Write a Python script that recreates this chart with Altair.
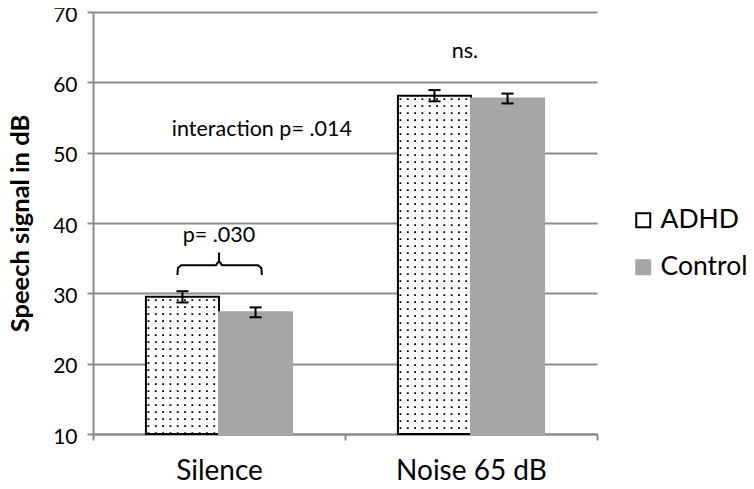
import altair as alt
import pandas as pd

# ---- data ----
conditions = ["Silence", "Noise 65 dB"]
groups = ["ADHD", "Control"]
adhd_mean = [29.5, 58.1]
control_mean = [27.3, 57.7]
adhd_err = [0.8, 0.8]
control_err = [0.7, 0.7]
y_ticks = [10, 20, 30, 40, 50, 60, 70]

annot_text = ["p= .030", "interaction p= .014", "ns."]
annot_x = [0.0, 0.17, 0.976]
annot_y = [38.1, 53.2, 64.35]

brace_x = [-0.165, -0.163, -0.150, -0.012, 0.0, 0.0, 0.0, 0.012, 0.155, 0.168, 0.170]
brace_y = [32.6, 33.6, 34.0, 34.0, 34.6, 35.8, 34.6, 34.0, 34.0, 33.6, 32.6]
brace_part = ["L", "L", "L", "L", "L", "L", "R", "R", "R", "R", "R"]

# ---- tables ----
rows = []
for i, c in enumerate(conditions):
    rows.append({"idx": i, "condition": c, "group": "ADHD", "mean": adhd_mean[i], "err": adhd_err[i]})
    rows.append({"idx": i, "condition": c, "group": "Control", "mean": control_mean[i], "err": control_err[i]})
bars_df = pd.DataFrame(rows)

BW = 0.29
tex_rows = []
for i in range(len(conditions)):
    for k in range(10):
        tex_rows.append({"idx": i, "k": k, "mean": adhd_mean[i]})
tex_df = pd.DataFrame(tex_rows)

annot_df = pd.DataFrame({"text": annot_text, "x": annot_x, "y": annot_y})
brace_df = pd.DataFrame({"x": brace_x, "y": brace_y, "part": brace_part,
                         "order": list(range(len(brace_x)))})

GRID = "#8c8c8c"
FONT = "Lato"

xscale = alt.Scale(domain=[-0.5, 1.5], nice=False, zero=False)
yscale = alt.Scale(domain=[10, 70], nice=False, zero=False)

xaxis = alt.Axis(
    title=None,
    values=[-0.5, 0, 0.5, 1, 1.5],
    labelExpr="datum.value == 0 ? 'Silence' : datum.value == 1 ? 'Noise 65 dB' : ''",
    grid=False, labelFont=FONT, labelFontSize=28, labelColor="black",
    labelPadding=17, tickSize=6, tickWidth=2,
    tickColor={"condition": {"test": "datum.value % 1 === 0", "value": "transparent"}, "value": GRID},
    domainColor=GRID, domainWidth=2, labelFlush=False,
)
yaxis = alt.Axis(
    values=y_ticks, title="Speech signal in dB",
    titleFont=FONT, titleFontSize=25.5, titleFontWeight="bold", titleColor="black",
    titlePadding=19,
    labelFont=FONT, labelFontSize=21, labelColor="black", labelPadding=10,
    labelOffset=3,
    tickSize=6, tickWidth=2, tickColor=GRID,
    domainColor=GRID, domainWidth=2,
    gridColor=GRID, gridWidth=2,
)

legend = alt.Legend(
    title=None, orient="none", legendX=537, legendY=195,
    symbolType="square", symbolSize=196, symbolStrokeWidth=2,
    labelFont=FONT, labelFontSize=26.5, labelColor="black",
    labelOffset=4, rowPadding=20,
)

base = alt.Chart(bars_df).transform_calculate(
    x0=f"datum.group == 'ADHD' ? datum.idx - {BW} : datum.idx",
).transform_calculate(
    x1=f"datum.x0 + {BW}",
    cx=f"datum.x0 + {BW / 2}",
    lo="datum.mean - datum.err",
    hi="datum.mean + datum.err",
)

bars = base.mark_bar(strokeWidth=2).encode(
    x=alt.X("x0:Q", scale=xscale, axis=xaxis),
    x2="x1:Q",
    y=alt.Y("mean:Q", scale=yscale, axis=yaxis),
    y2=alt.datum(10),
    fill=alt.Fill("group:N", scale=alt.Scale(domain=groups, range=["white", "#a6a6a6"]), legend=legend),
    stroke=alt.Stroke("group:N", scale=alt.Scale(domain=groups, range=["black", "#a6a6a6"]), legend=legend),
)

texture = alt.Chart(tex_df).transform_calculate(
    tx=f"datum.idx - {BW} + {BW} * (datum.k + 0.35) / 10",
    ty="datum.mean - 0.35",
).mark_rule(color="black", strokeWidth=1.8, strokeDash=[1.8, 5.2]).encode(
    x=alt.X("tx:Q", scale=xscale, axis=xaxis),
    y=alt.Y("ty:Q", scale=yscale, axis=yaxis),
    y2=alt.datum(10),
)

err_v = base.mark_rule(color="black", strokeWidth=2).encode(
    x=alt.X("cx:Q", scale=xscale, axis=xaxis),
    y=alt.Y("lo:Q", scale=yscale, axis=yaxis),
    y2="hi:Q",
)

caps = base.transform_fold(["lo", "hi"], as_=["end", "yv"]).transform_calculate(
    c0="datum.cx - 0.024", c1="datum.cx + 0.024",
).mark_rule(color="black", strokeWidth=2).encode(
    x=alt.X("c0:Q", scale=xscale, axis=xaxis),
    x2="c1:Q",
    y=alt.Y("yv:Q", scale=yscale, axis=yaxis),
)

texts = alt.Chart(annot_df).mark_text(
    font=FONT, fontSize=21.5, color="black", align="center", baseline="middle"
).encode(
    x=alt.X("x:Q", scale=xscale, axis=xaxis),
    y=alt.Y("y:Q", scale=yscale, axis=yaxis),
    text="text:N",
)

brace = alt.Chart(brace_df).mark_line(color="black", strokeWidth=2).encode(
    x=alt.X("x:Q", scale=xscale, axis=xaxis),
    y=alt.Y("y:Q", scale=yscale, axis=yaxis),
    detail="part:N",
    order="order:Q",
)

chart = alt.layer(bars, texture, err_v, caps, texts, brace).properties(
    width=504, height=422,
    autosize=alt.AutoSizeParams(type="none"),
    padding={"left": 85, "top": 4, "right": 149, "bottom": 47},
    background="white",
).configure_view(stroke=None)

chart.save("out.html", embed_options={"renderer": "svg", "actions": False})
